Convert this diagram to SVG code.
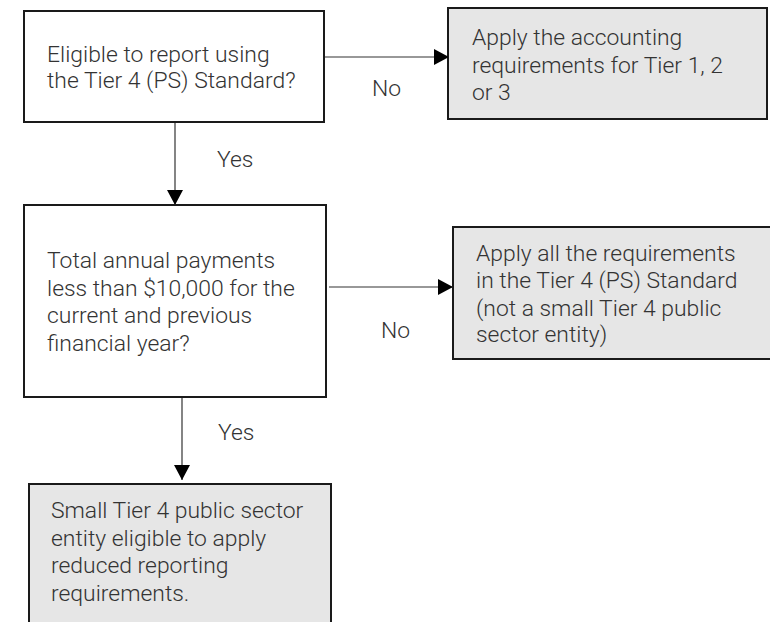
<svg xmlns="http://www.w3.org/2000/svg" width="770" height="622" viewBox="0 0 770 622">
<defs>
<marker id="arr" markerWidth="15" markerHeight="16" refX="15" refY="8" orient="auto" markerUnits="userSpaceOnUse">
<path d="M0,0 L15,8 L0,16 Z" fill="#000"/>
</marker>
<style>
.q{fill:#fff;stroke:#1a1a1a;stroke-width:2}
.a{fill:#e6e6e6;stroke:#1a1a1a;stroke-width:2}
text{font-family:Roboto,"Liberation Sans",sans-serif;font-weight:300;font-size:22.9px;fill:#333}
.c{stroke:#333;stroke-width:1.2;fill:none}
</style>
</defs>
<rect width="770" height="622" fill="#fff"/>
<g id="n1">
<rect class="q" x="24" y="11" width="300" height="111"/>
<text x="47" y="62">Eligible to report using</text>
<text x="47" y="88">the Tier 4 (PS) Standard?</text>
</g>
<g id="n2">
<rect class="a" x="448" y="8" width="319" height="111"/>
<text x="472" y="45">Apply the accounting</text>
<text x="472" y="73">requirements for Tier 1, 2</text>
<text x="472" y="100">or 3</text>
</g>
<g id="n3">
<rect class="q" x="24" y="205" width="302" height="192"/>
<text x="47" y="268">Total annual payments</text>
<text x="47" y="296">less than $10,000 for the</text>
<text x="47" y="323">current and previous</text>
<text x="47" y="351">financial year?</text>
</g>
<g id="n4">
<rect class="a" x="453" y="227" width="330" height="132"/>
<text x="476" y="261">Apply all the requirements</text>
<text x="476" y="288">in the Tier 4 (PS) Standard</text>
<text x="476" y="316">(not a small Tier 4 public</text>
<text x="476" y="342">sector entity)</text>
</g>
<g id="n5">
<rect class="a" x="29" y="484" width="302" height="150"/>
<text x="51" y="518">Small Tier 4 public sector</text>
<text x="51" y="546">entity eligible to apply</text>
<text x="51" y="573">reduced reporting</text>
<text x="51" y="601">requirements.</text>
</g>
<g id="connectors">
<path class="c" d="M325,57 H449" marker-end="url(#arr)"/>
<text x="372" y="96">No</text>
<path class="c" d="M175,123 V205" marker-end="url(#arr)"/>
<text x="217" y="167">Yes</text>
<path class="c" d="M329,287 H453" marker-end="url(#arr)"/>
<text x="381" y="338">No</text>
<path class="c" d="M182,398 V480" marker-end="url(#arr)"/>
<text x="218" y="440">Yes</text>
</g>
</svg>
